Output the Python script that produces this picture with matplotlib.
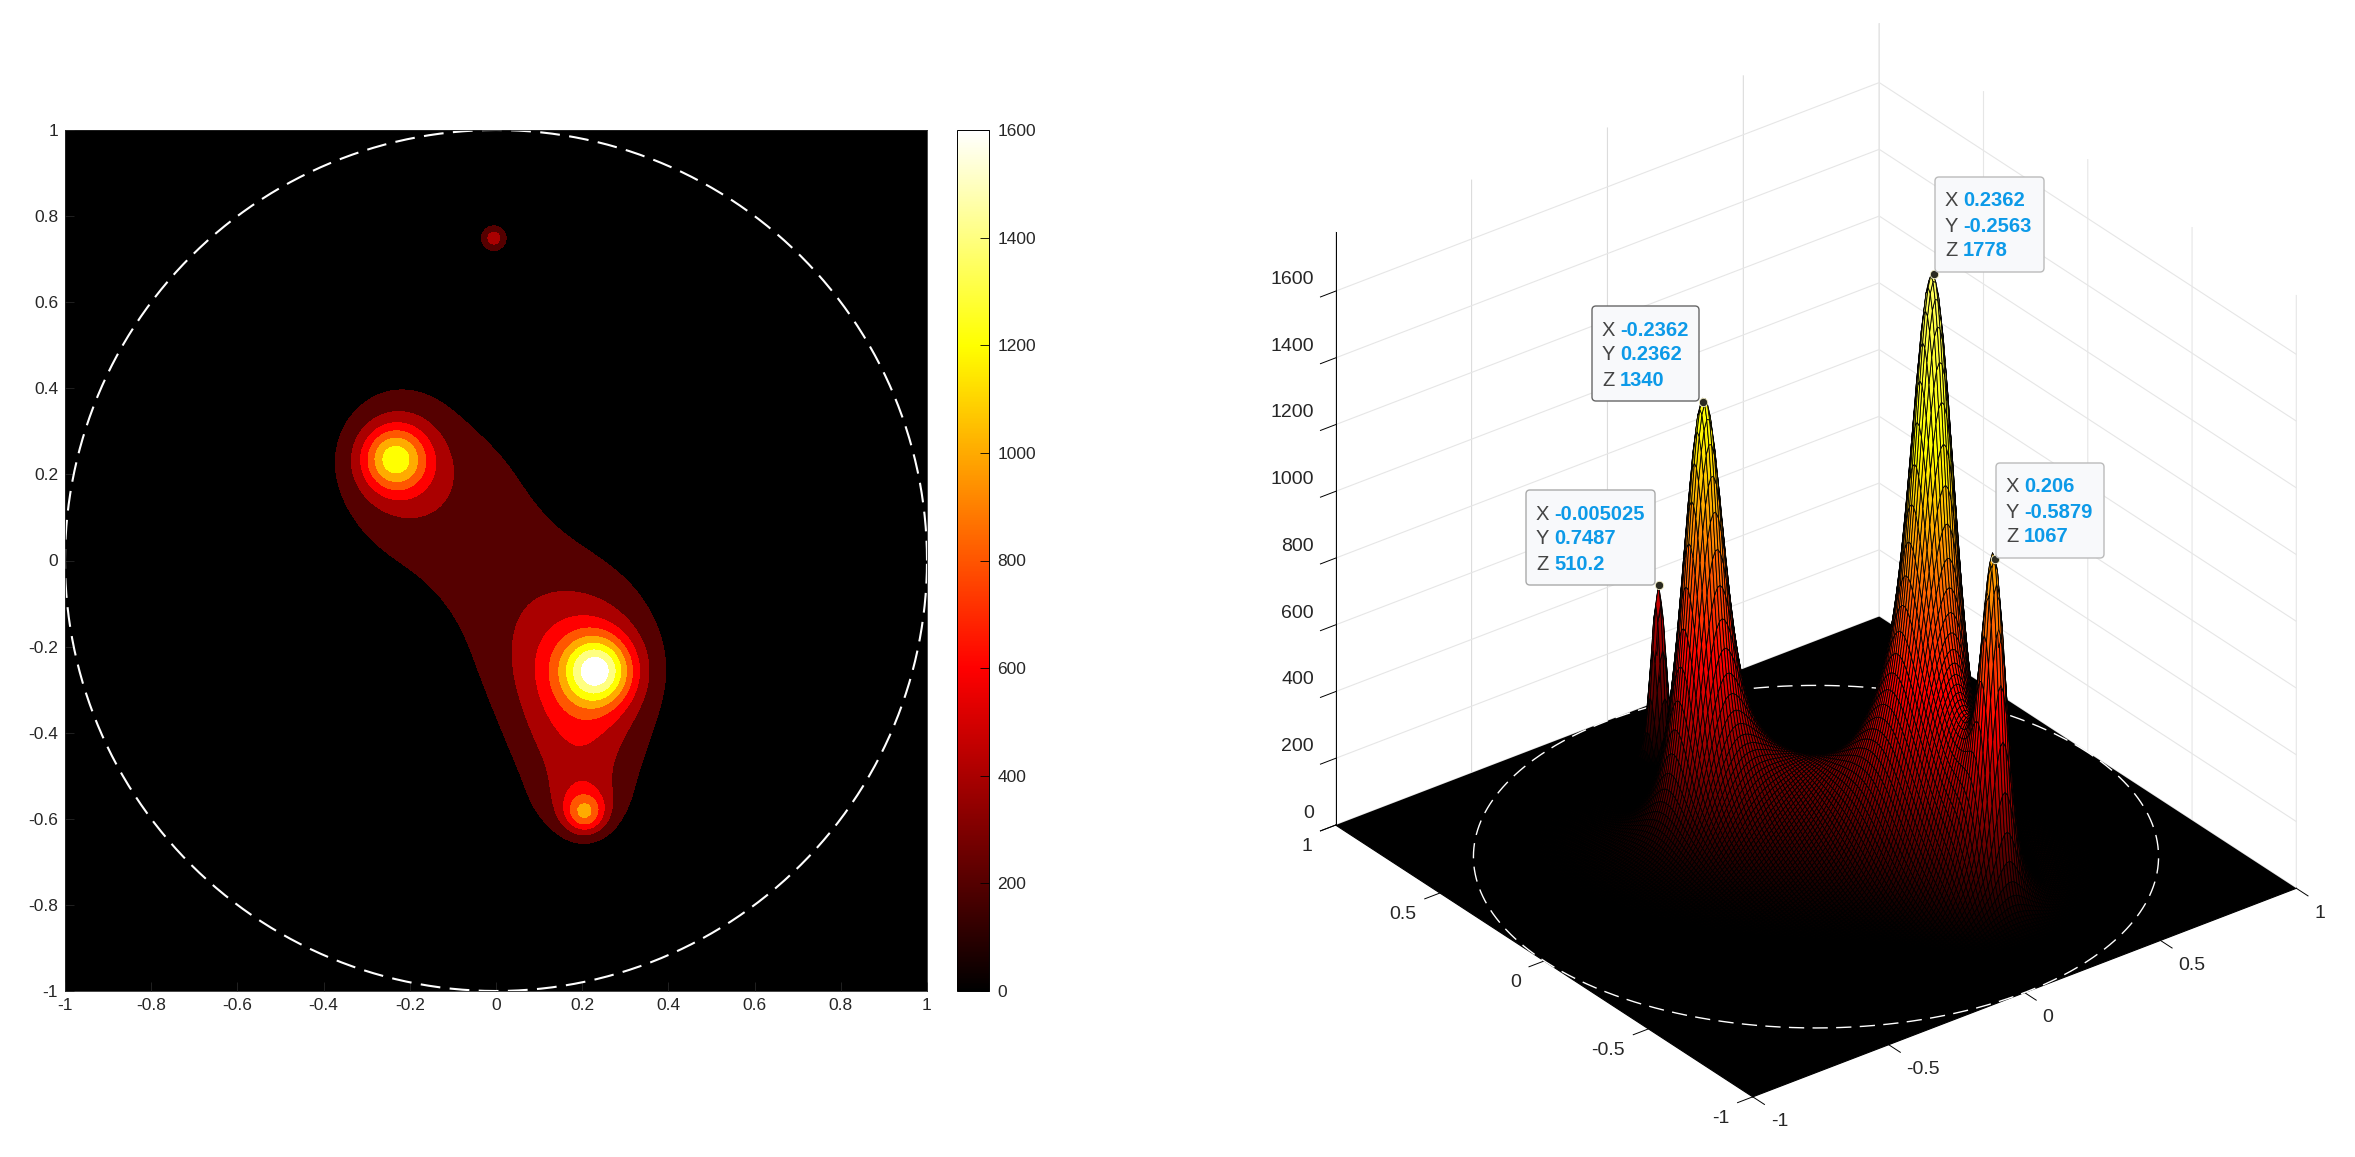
"""Hot contour map and 3D surface of a four peak field, with data tips."""

import matplotlib

matplotlib.use("Agg")

import matplotlib.pyplot as plt
import numpy as np
from matplotlib.cm import ScalarMappable
from matplotlib.colors import LinearSegmentedColormap, Normalize
from matplotlib.patches import FancyBboxPatch
from matplotlib.transforms import IdentityTransform
from mpl_toolkits.mplot3d import proj3d
from mpl_toolkits.mplot3d.art3d import Poly3DCollection

WIDTH, HEIGHT = 2355, 1157

# field: centre, height, widths, rotation
bump_x = [-0.2362, -0.22, 0.2362, 0.21, 0.206, 0.19, 0.20, 0.0, 0.06, -0.04, -0.005]
bump_y = [0.2362, 0.23, -0.2563, -0.24, -0.5879, -0.44, -0.56, 0.0, -0.25, 0.22, 0.7487]
bump_height = [840, 365, 1020, 515, 648, 380, 260, 275, 90, 50, 510]
bump_su = [0.052, 0.09, 0.055, 0.10, 0.032, 0.10, 0.065, 0.30, 0.09, 0.09, 0.021]
bump_sv = [0.052, 0.11, 0.055, 0.115, 0.032, 0.12, 0.055, 0.18, 0.12, 0.09, 0.021]
bump_deg = [0, 0, 0, 0, 0, 0, 0, -45, 0, 0, 0]

grid_size = 200
contour_levels = [0, 200, 400, 600, 800, 1000, 1200, 1400, 1600]
colorbar_ticks = [0, 200, 400, 600, 800, 1000, 1200, 1400, 1600]
color_max = 1600
z_max = 1778

map_ticks = [-1, -0.8, -0.6, -0.4, -0.2, 0, 0.2, 0.4, 0.6, 0.8, 1]
map_tick_labels = ["-1", "-0.8", "-0.6", "-0.4", "-0.2", "0", "0.2", "0.4", "0.6", "0.8", "1"]
surf_ticks = [-1, -0.5, 0, 0.5, 1]
surf_tick_labels = ["-1", "-0.5", "0", "0.5", "1"]
z_ticks = [0, 200, 400, 600, 800, 1000, 1200, 1400, 1600]
z_tick_labels = ["0", "200", "400", "600", "800", "1000", "1200", "1400", "1600"]

tip_x = [-0.005025, -0.2362, 0.2362, 0.206]
tip_y = [0.7487, 0.2362, -0.2563, -0.5879]
tip_z = [510.2, 1340, 1778, 1067]
tip_text_x = ["-0.005025", "-0.2362", "0.2362", "0.206"]
tip_text_y = ["0.7487", "0.2362", "-0.2563", "-0.5879"]
tip_text_z = ["510.2", "1340", "1778", "1067"]

circle_radius = 1.0

plt.rcParams["font.family"] = ["Liberation Sans", "DejaVu Sans"]
plt.rcParams["axes.unicode_minus"] = False
TICK_COLOR = "#262626"
MAP_FONT = 12.5
SURF_FONT = 14
TIP_FONT = 14.5

# MATLAB's hot, matplotlib's own starts a bit brighter
hot = LinearSegmentedColormap.from_list(
    "matlab_hot", [(0, "#000000"), (3 / 8, "#ff0000"), (6 / 8, "#ffff00"), (1, "#ffffff")], N=512
)
# the surface stays yellow right up to its tips
surface_hot = LinearSegmentedColormap.from_list(
    "surface_hot", [(0, "#000000"), (0.34, "#ff0000"), (0.72, "#ffff00"), (1, "#ffff60")], N=512
)


def make_field(xx, yy):
    total = np.zeros_like(xx)
    for x0, y0, h, su, sv, deg in zip(bump_x, bump_y, bump_height, bump_su, bump_sv, bump_deg):
        a = np.radians(deg)
        u = (xx - x0) * np.cos(a) + (yy - y0) * np.sin(a)
        v = -(xx - x0) * np.sin(a) + (yy - y0) * np.cos(a)
        total += h * np.exp(-u**2 / (2 * su**2) - v**2 / (2 * sv**2))
    return total


def draw_map(fig, xs, ys, zz, theta):
    ax = fig.add_axes([65 / WIDTH, 1 - 991 / HEIGHT, 862 / WIDTH, 861 / HEIGHT])
    ax.set_facecolor("black")
    # stacked fills, one contourf with all levels leaves seams between the bands
    for level in contour_levels[1:]:
        ax.contourf(xs, ys, zz, levels=[level, z_max + 1], colors=[hot(level / color_max)])
    ax.plot(
        circle_radius * np.cos(theta),
        circle_radius * np.sin(theta),
        color="white",
        lw=1.5,
        dashes=(9.5, 4.5),
    )
    ax.set_xlim(-1, 1)
    ax.set_ylim(-1, 1)
    ax.set_xticks(map_ticks, map_tick_labels)
    ax.set_yticks(map_ticks, map_tick_labels)
    ax.tick_params(
        direction="in", length=6.5, width=0.6, color=TICK_COLOR, labelsize=MAP_FONT, labelcolor=TICK_COLOR, pad=5
    )
    for spine in ax.spines.values():
        spine.set_linewidth(0.6)
        spine.set_color(TICK_COLOR)

    cax = fig.add_axes([957 / WIDTH, 1 - 991 / HEIGHT, 32 / WIDTH, 861 / HEIGHT])
    cbar = fig.colorbar(ScalarMappable(Normalize(0, color_max), hot), cax=cax)
    cbar.set_ticks(colorbar_ticks)
    cbar.ax.tick_params(
        direction="in", length=6.5, width=0.6, color="black", labelsize=MAP_FONT, labelcolor=TICK_COLOR, pad=6
    )
    cbar.outline.set_linewidth(0.7)
    cbar.outline.set_edgecolor("black")


def label_3d(ax, x, y, z, text, ha):
    # projected by hand and written as 2D text, the native labels cannot be placed like MATLAB's
    px, py, _ = proj3d.proj_transform(x, y, z, ax.get_proj())
    ax.text2D(px, py, text, transform=ax.transData, ha=ha, va="center", fontsize=SURF_FONT, color=TICK_COLOR, zorder=6)


def draw_surface(fig, xs, ys, zz, theta):
    # square axes placed so that the cube centre lands where the reference has it
    size = 1152
    left = 1816 - size * 0.95 / 1.85
    bottom = (HEIGHT - 560) - size * 0.95 / 1.85
    ax = fig.add_axes(
        [left / WIDTH, bottom / HEIGHT, size / WIDTH, size / HEIGHT],
        projection="3d",
        proj_type="ortho",
        computed_zorder=False,
    )
    ax.patch.set_alpha(0)
    ax.view_init(elev=30, azim=232.5)
    ax.set_box_aspect((1, 1, 1))

    plane_x, plane_y = np.meshgrid([-1.0, 1.0], [-1.0, 1.0])
    ax.plot_surface(plane_x, plane_y, np.zeros((2, 2)), color="black", shade=False, linewidth=0, zorder=1)

    ax.plot(
        circle_radius * np.cos(theta),
        circle_radius * np.sin(theta),
        0,
        color="white",
        lw=1.0,
        dashes=(11, 6),
        zorder=2,
    )

    # flat cells are left out so the circle shows through, the peaks still hide it
    xx, yy = np.meshgrid(xs, ys)
    stack = np.stack([xx, yy, zz], axis=-1)
    verts = np.stack([stack[:-1, :-1], stack[:-1, 1:], stack[1:, 1:], stack[1:, :-1]], axis=2)
    corners_z = verts[..., 2]
    keep = corners_z.max(axis=-1) > 3
    polys = Poly3DCollection(
        verts[keep],
        cmap=surface_hot,
        norm=Normalize(0, z_max),
        edgecolor="black",
        linewidth=0.6,
        zorder=3,
    )
    polys.set_array(corners_z[keep].mean(axis=-1))
    ax.add_collection3d(polys)

    ax.plot(
        tip_x, tip_y, tip_z, ls="none", marker="o", ms=6, mfc="#2b2b20", mec="#f4f0c8", mew=0.6, zorder=5
    )

    ax.set_xlim(-1, 1, view_margin=0)
    ax.set_ylim(-1, 1, view_margin=0)
    ax.set_zlim(0, z_max, view_margin=0)
    ax.set_xticks(surf_ticks)
    ax.set_yticks(surf_ticks)
    ax.set_zticks(z_ticks)

    for axis in (ax.xaxis, ax.yaxis, ax.zaxis):
        for tick in axis.get_major_ticks():
            tick.label1.set_visible(False)
    for tick, label in zip(surf_ticks, surf_tick_labels):
        label_3d(ax, tick, -1.086, -40, label, "left")
        label_3d(ax, -1.086, tick, -37, label, "right")
    for tick, label in zip(z_ticks, z_tick_labels):
        label_3d(ax, -1, 1.105, tick - 8, label, "right")

    for axis, grid_color in ((ax.xaxis, "#dcdcdc"), (ax.yaxis, "#e6e6e6"), (ax.zaxis, "#e6e6e6")):
        axis.set_pane_color((1, 1, 1, 0))
        axis.pane.set_edgecolor((1, 1, 1, 0))
        axis._axinfo["grid"]["color"] = grid_color
        axis._axinfo["grid"]["linewidth"] = 0.8
        axis._axinfo["tick"]["inward_factor"] = 0.35
        axis._axinfo["tick"]["outward_factor"] = 0
        axis._axinfo["tick"]["linewidth"] = {True: 0.7, False: 0.7}
        axis._axinfo["tick"]["color"] = TICK_COLOR
    ax.xaxis.line.set_color("black")
    ax.yaxis.line.set_color("black")
    ax.zaxis.line.set_color("black")
    ax.zaxis.line.set_linewidth(0.7)
    return ax


def draw_tip(fig, box_left, box_top, box_w, box_h, edge, text_x, text_y, text_z):
    tr = IdentityTransform()
    fig.add_artist(
        FancyBboxPatch(
            (box_left + 3, HEIGHT - box_top - box_h + 3),
            box_w - 6,
            box_h - 6,
            boxstyle="round,pad=3,rounding_size=4",
            fc="#f8f9fb",
            ec=edge,
            lw=1,
            transform=tr,
            zorder=2,
        )
    )
    for row, (name, value) in enumerate((("X", text_x), ("Y", text_y), ("Z", text_z))):
        y_px = HEIGHT - (box_top + 24 + 25 * row)
        fig.text(box_left + 10, y_px, name, color="#444444", fontsize=TIP_FONT, va="center", transform=tr, zorder=3)
        fig.text(
            box_left + 28,
            y_px,
            value,
            color="#0d9ae8",
            fontsize=TIP_FONT,
            fontweight="bold",
            va="center",
            transform=tr,
            zorder=3,
        )


def main():
    fig = plt.figure(figsize=(WIDTH / 100, HEIGHT / 100), dpi=100, facecolor="white")

    xs = np.linspace(-1, 1, grid_size)
    ys = np.linspace(-1, 1, grid_size)
    xx, yy = np.meshgrid(xs, ys)
    zz = make_field(xx, yy)
    theta = np.linspace(0, 2 * np.pi, 721)

    draw_map(fig, xs, ys, zz, theta)
    draw_surface(fig, xs, ys, zz, theta)

    draw_tip(fig, 1526, 490, 129, 95, "#aaaaaa", tip_text_x[0], tip_text_y[0], tip_text_z[0])
    draw_tip(fig, 1592, 306, 107, 95, "#666666", tip_text_x[1], tip_text_y[1], tip_text_z[1])
    draw_tip(fig, 1935, 177, 109, 95, "#bbbbbb", tip_text_x[2], tip_text_y[2], tip_text_z[2])
    draw_tip(fig, 1996, 463, 108, 95, "#bbbbbb", tip_text_x[3], tip_text_y[3], tip_text_z[3])

    fig.savefig("out.png", dpi=100, facecolor="white")
    plt.close(fig)


if __name__ == "__main__":
    main()
